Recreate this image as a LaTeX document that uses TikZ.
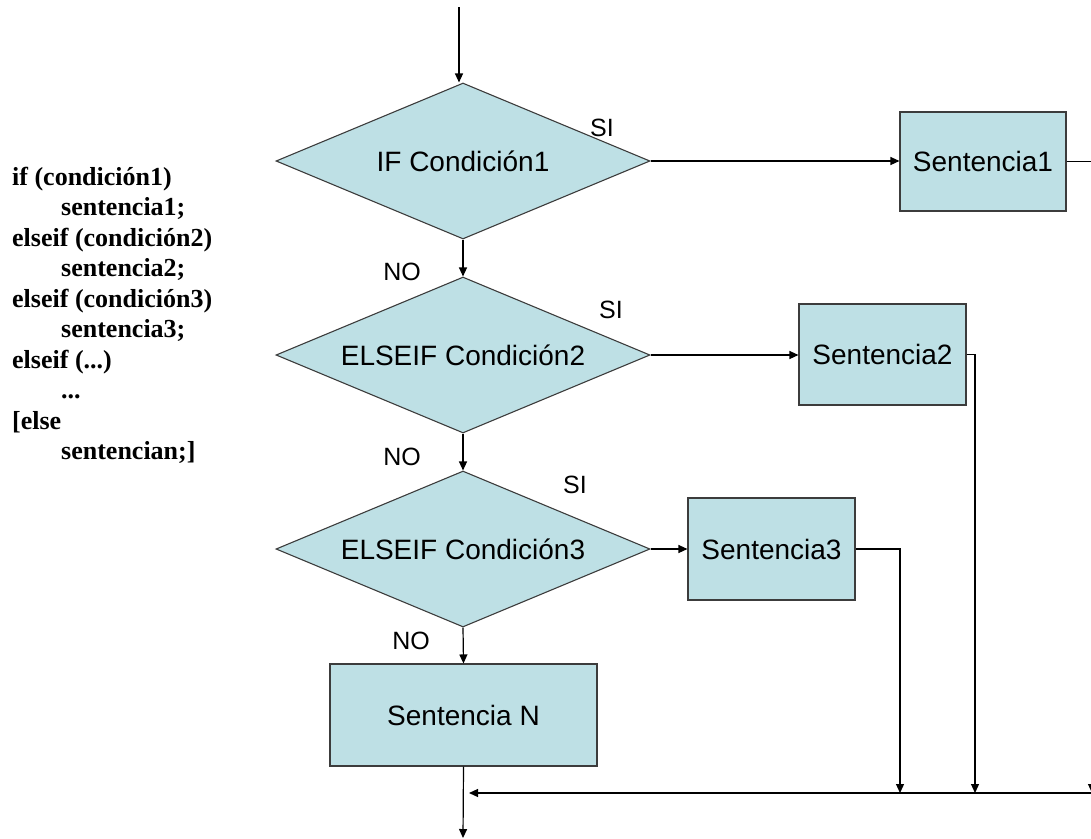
\documentclass[tikz,border=0pt]{standalone}
\usepackage{fontspec}
\setmainfont{Liberation Serif}
\newfontfamily\flowfont{Liberation Sans}
\usetikzlibrary{shapes.geometric,arrows.meta}
\definecolor{boxfill}{RGB}{190,224,229}
\definecolor{boxedge}{RGB}{60,60,60}
\tikzset{
  flow/.style={draw=boxedge, fill=boxfill, line width=1.1pt, font=\flowfont\fontsize{28}{32}\selectfont, inner sep=0pt},
  decision/.style={flow, diamond, aspect=2.4, minimum width=374pt, minimum height=156pt},
  stepbox/.style={flow, rectangle},
  tag/.style={font=\flowfont\fontsize{25}{28}\selectfont, inner sep=0pt},
  link/.style={line width=1.2pt, -{Triangle[length=9pt,width=8pt]}},
  plain/.style={line width=1.2pt},
  codeline/.style={anchor=base west, inner sep=0pt, font=\fontsize{26}{30}\selectfont\bfseries}
}
\begin{document}
\begin{tikzpicture}[x=1pt,y=-1pt]
\useasboundingbox (0,0) rectangle (1091,838);

% pseudo-code listing
\node[codeline] (c1)  at (12,185)   {if (condición1)};
\node[codeline] (c2)  at (61,215.5) {sentencia1;};
\node[codeline] (c3)  at (12,246)   {elseif (condición2)};
\node[codeline] (c4)  at (61,276.5) {sentencia2;};
\node[codeline] (c5)  at (12,307)   {elseif (condición3)};
\node[codeline] (c6)  at (61,337.5) {sentencia3;};
\node[codeline] (c7)  at (12,368)   {elseif (...)};
\node[codeline] (c8)  at (61,398.5) {...};
\node[codeline] (c9)  at (12,429)   {[else};
\node[codeline] (c10) at (61,459.5) {sentencian;]};

% decisions
\node[decision] (d1) at (463,161) {IF Condición1};
\node[decision] (d2) at (463,355) {ELSEIF Condición2};
\node[decision] (d3) at (463,549) {ELSEIF Condición3};

% statements
\node[stepbox, minimum width=166pt, minimum height=99pt]  (s1) at (983,161.5) {Sentencia1};
\node[stepbox, minimum width=167pt, minimum height=101pt] (s2) at (882.5,354.5) {Sentencia2};
\node[stepbox, minimum width=167pt, minimum height=102pt] (s3) at (771.5,549) {Sentencia3};
\node[stepbox, minimum width=267pt, minimum height=102pt] (sn) at (463.5,715) {Sentencia N};

% branch labels
\node[tag] (si1) at (602,128) {SI};
\node[tag] (si2) at (611,310) {SI};
\node[tag] (si3) at (575,485) {SI};
\node[tag] (no1) at (402,272) {NO};
\node[tag] (no2) at (402,457) {NO};
\node[tag] (no3) at (411,641) {NO};

% free ends
\coordinate (start) at (459,7);
\coordinate (finish) at (463,838);
\coordinate (merge) at (469,793);
\coordinate (k1) at (1092,161.5);
\coordinate (k2) at (975,354.5);
\coordinate (k3) at (900,549);

% main column
\draw[link] (start) -- (start |- d1.north);
\draw[link] (d1.south) -- (d2.north);
\draw[link] (d2.south) -- (d3.north);
\draw[link] (d3.south) -- (sn.north);
\draw[link] (sn.south) -- (finish);

% true branches
\draw[link] (d1.east) -- (d1.east -| s1.west);
\draw[link] (d2.east) -- (d2.east -| s2.west);
\draw[link] (d3.east) -- (d3.east -| s3.west);

% returns to the common exit
\draw[link] (s1.east) -- (k1) -- (k1 |- merge);
\draw[link] (s2.east) -- (k2) -- (k2 |- merge);
\draw[link] (s3.east) -- (k3) -- (k3 |- merge);
\draw[link] (k1 |- merge) -- (merge);
\end{tikzpicture}
\end{document}
